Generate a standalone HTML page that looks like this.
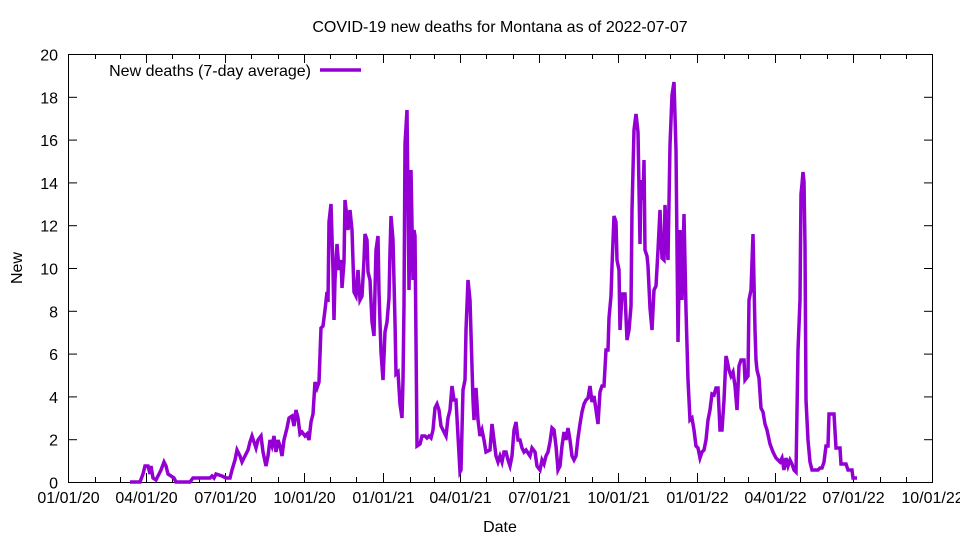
<!DOCTYPE html>
<html><head><meta charset="utf-8"><style>body{margin:0;background:#fff}svg{display:block}text{font-family:"Liberation Sans",sans-serif;font-size:16px;fill:#000}</style></head><body>
<svg width="960" height="540" viewBox="0 0 960 540" xmlns="http://www.w3.org/2000/svg">
<rect width="960" height="540" fill="#fff"/>
<text x="500" y="32" text-anchor="middle">COVID-19 new deaths for Montana as of 2022-07-07</text>
<g id="ax" stroke="#000" stroke-width="1" fill="none">
<rect x="68.5" y="54.5" width="864" height="428"/>
</g>
<g id="yt"></g>
<g id="xt"></g>
<text x="22" y="268" text-anchor="middle" transform="rotate(-90 22 268)">New</text>
<text x="500" y="532" text-anchor="middle">Date</text>
<text x="311" y="76" text-anchor="end">New deaths (7-day average)</text>
<line x1="320" y1="70" x2="361" y2="70" stroke="#9400d3" stroke-width="3.5"/>
<polyline fill="none" stroke="#9400d3" stroke-width="3.5" stroke-linejoin="miter" points="130,482 140,482 143,474 145,466 148,466 150,474 151,466 153,478 156,480 159,474 161,470 164,462 166,466 168,474 171,476 174,478 176,482 190,482 193,478 210,478 212,476 214,478 216,474 222,476 226,478 230,478 232,470 235,460 237,450 240,456 242,462 245,456 248,450 250,442 252,436 254,442 256,448 258,440 261,436 263,452 266,466 268,456 270,440 272,446 274,436 276,452 278,440 280,446 282,456 284,440 287,428 289,418 292,416 294,426 296,410 298,418 300,434 302,432 305,436 307,434 309,440 311,422 313,414 315,382 317,388 319,382 321,328 323,326 325,310 327,292 328,302 329,222 331,204 333,270 334,320 335,280 337,244 339,270 341,260 342,288 344,262 345,200 347,218 348,230 350,210 352,230 354,292 356,296 358,270 360,300 362,296 364,260 365,234 367,240 368,272 370,280 372,322 374,336 375,290 376,250 378,236 379,292 381,352 383,380 385,332 387,322 389,298 390,252 391,216 393,240 395,322 396,374 398,372 400,404 402,418 403,380 404,305 405,144 407,110 409,290 411,170 413,280 414,230 415,236 417,446 420,444 422,436 425,436 427,438 429,436 431,438 433,430 435,408 437,404 439,410 441,426 443,430 444,432 446,436 448,418 450,410 452,386 454,400 456,400 458,436 460,472 461,470 463,390 465,380 466,330 468,280 470,300 473,400 474,420 476,388 478,420 480,436 482,430 484,440 486,452 490,450 492,424 494,440 496,456 498,462 500,456 502,462 504,452 506,452 508,460 510,466 512,456 514,430 516,422 518,440 520,440 522,448 524,452 526,450 530,456 532,448 535,452 537,466 540,470 542,460 544,464 546,456 548,452 550,442 552,428 554,430 556,446 558,470 560,466 562,446 564,432 566,440 568,428 570,440 572,456 574,460 576,456 578,438 580,424 582,412 584,404 586,400 588,398 590,386 592,402 594,396 596,410 598,424 600,392 602,386 604,386 606,350 608,350 609,318 611,296 612,266 614,216 616,222 617,260 619,270 620,330 622,294 625,294 627,340 629,330 631,306 632,210 634,130 636,114 638,132 640,244 641,180 643,200 644,160 645,250 647,256 648,266 650,308 652,330 654,290 656,286 658,250 660,210 662,258 664,260 665,205 666,228 668,260 670,145 672,95 674,82 676,150 678,342 680,230 682,300 684,214 686,310 688,380 690,420 692,418 694,430 696,446 698,448 700,458 702,452 704,450 706,440 708,420 710,410 712,394 714,395 716,388 718,388 720,430 722,430 724,400 726,356 727,360 729,370 731,376 733,372 735,386 737,410 739,366 741,360 744,360 745,380 748,376 749,300 751,290 753,234 755,330 756,360 757,370 759,378 761,408 763,412 765,424 767,430 770,444 773,452 776,458 778,460 780,462 782,458 784,470 786,458 788,466 790,460 792,464 794,470 796,472 798,350 800,300 801,194 802,184 803,172 804,182 805,246 806,400 808,440 810,462 812,470 818,470 820,468 822,468 824,462 826,446 828,446 829,414 834,414 836,448 840,448 841,464 846,464 848,470 852,470 853,478 857,478"/>
</svg>
<script>
var ns="http://www.w3.org/2000/svg";
function el(p,t,a,txt){var e=document.createElementNS(ns,t);for(var k in a)e.setAttribute(k,a[k]);if(txt!=null)e.textContent=txt;p.appendChild(e);return e;}
var yt=document.getElementById("yt");
for(var v=0;v<=20;v+=2){var y=482-v*21.4+0.5;
el(yt,"line",{x1:68,x2:77,y1:y,y2:y,stroke:"#000"});
el(yt,"line",{x1:924,x2:933,y1:y,y2:y,stroke:"#000"});
el(yt,"text",{x:58,y:y+6,"text-anchor":"end"},String(v));}
var xt=document.getElementById("xt");
var start=Date.UTC(2020,0,1),ppd=864/1004;
var labs=["01/01/20","04/01/20","07/01/20","10/01/20","01/01/21","04/01/21","07/01/21","10/01/21","01/01/22","04/01/22","07/01/22","10/01/22"];
for(var m=0;m<=33;m++){var d=Date.UTC(2020,m,1);var x=68+(d-start)/864e5*ppd;x=Math.round(x)+0.5;
var maj=m%3==0;var L=maj?9:5;
el(xt,"line",{x1:x,x2:x,y1:482,y2:482-L,stroke:"#000"});
el(xt,"line",{x1:x,x2:x,y1:54,y2:54+L,stroke:"#000"});
if(maj)el(xt,"text",{x:x,y:503,"text-anchor":"middle"},labs[m/3]);}
</script>
</body></html>
